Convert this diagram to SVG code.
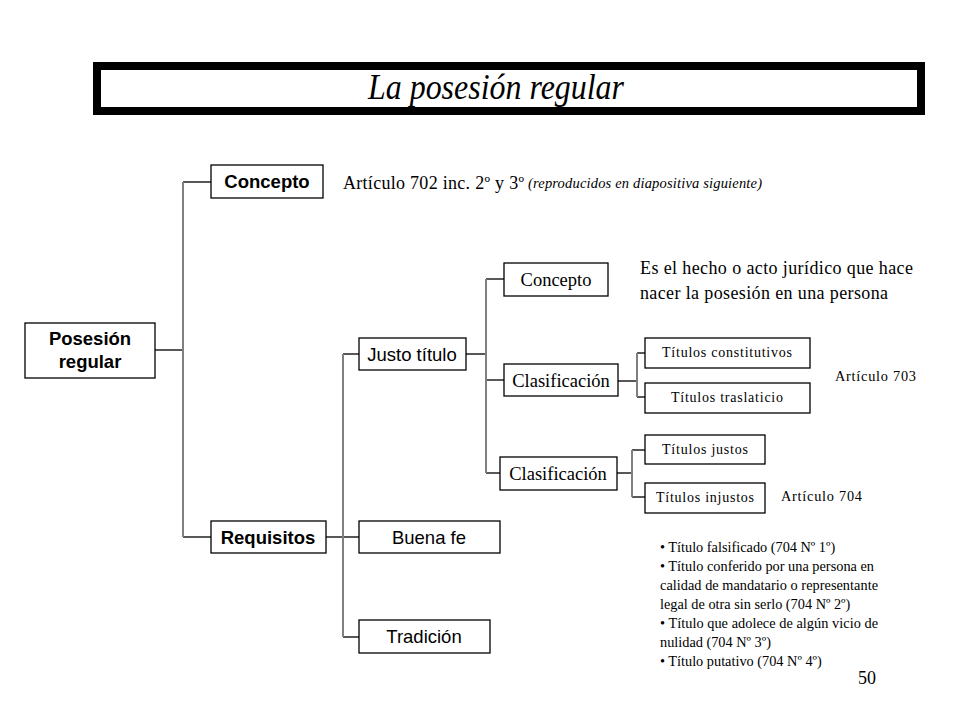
<svg xmlns="http://www.w3.org/2000/svg" width="960" height="720" viewBox="0 0 960 720">
<style>
.box{fill:#fff;stroke:#000;stroke-width:1.3}
.h{stroke:#222;stroke-width:1.5;fill:none}
.v{stroke:#808080;stroke-width:2;fill:none}
.sb{font-family:"Liberation Sans",Arial,sans-serif;font-weight:bold;font-size:18.5px;fill:#000;text-anchor:middle}
.s{font-family:"Liberation Sans",Arial,sans-serif;font-size:18.5px;fill:#000;text-anchor:middle}
.t{font-family:"Liberation Serif","Times New Roman",serif;font-size:18px;fill:#000}
.ti{font-family:"Liberation Serif","Times New Roman",serif;font-size:14.5px;font-style:italic;fill:#000}
.tm{font-family:"Liberation Serif","Times New Roman",serif;font-size:18.5px;fill:#000;text-anchor:middle}
.ts{font-family:"Liberation Serif","Times New Roman",serif;font-size:14px;fill:#000;text-anchor:middle}
.tn{font-family:"Liberation Serif","Times New Roman",serif;font-size:14.3px;fill:#000}
</style>
<rect width="960" height="720" fill="#fff"/>
<g id="title">
<rect x="97" y="66" width="824" height="45" fill="#fff" stroke="#000" stroke-width="8"/>
<text x="496" y="99" font-family="'Liberation Serif','Times New Roman',serif" font-style="italic" font-size="36" text-anchor="middle" textLength="256" lengthAdjust="spacingAndGlyphs">La posesión regular</text>
</g>
<g id="connectors">
<path class="h" d="M155 350H183M183 182H211M183 537H211"/>
<path class="v" d="M183 182V537"/>
<path class="h" d="M326 537H359M343 354H359M343 637H359"/>
<path class="v" d="M343 354V637"/>
<path class="h" d="M466 354H486M486 279H504M486 380H504M486 473H500"/>
<path class="v" d="M486 279V473"/>
<path class="h" d="M618 381H637M637 353H645M637 397H645"/>
<path class="v" d="M637 353V397"/>
<path class="h" d="M617 473H632M632 450H645M632 497H645"/>
<path class="v" d="M632 450V497"/>
</g>
<g id="posesion"><rect class="box" x="25" y="323" width="130" height="55"/><text class="sb" x="90" y="345">Posesión</text><text class="sb" x="90" y="368">regular</text></g>
<g id="concepto1"><rect class="box" x="211" y="165" width="112" height="33"/><text class="sb" x="267" y="188">Concepto</text></g>
<g id="requisitos"><rect class="box" x="211" y="521" width="115" height="32"/><text class="sb" x="268" y="544">Requisitos</text></g>
<g id="justo"><rect class="box" x="359" y="338" width="107" height="32"/><text class="s" x="412" y="361">Justo título</text></g>
<g id="buenafe"><rect class="box" x="359" y="521" width="141" height="32"/><text class="s" x="429" y="544">Buena fe</text></g>
<g id="tradicion"><rect class="box" x="359" y="620" width="131" height="33"/><text class="s" x="424" y="643">Tradición</text></g>
<g id="concepto2"><rect class="box" x="504" y="263" width="104" height="33"/><text class="tm" x="556" y="286">Concepto</text></g>
<g id="clasif1"><rect class="box" x="504" y="364" width="114" height="32"/><text class="tm" x="561" y="387">Clasificación</text></g>
<g id="clasif2"><rect class="box" x="500" y="457" width="117" height="33"/><text class="tm" x="558" y="480">Clasificación</text></g>
<g id="constitutivos"><rect class="box" x="645" y="338" width="165" height="30"/><text class="ts" x="727" y="357" textLength="130">Títulos constitutivos</text></g>
<g id="traslaticio"><rect class="box" x="645" y="383" width="165" height="30"/><text class="ts" x="727" y="402" textLength="112">Títulos traslaticio</text></g>
<g id="justos"><rect class="box" x="645" y="435" width="120" height="29"/><text class="ts" x="705" y="454" textLength="86">Títulos justos</text></g>
<g id="injustos"><rect class="box" x="645" y="483" width="120" height="30"/><text class="ts" x="705" y="502" textLength="98">Títulos injustos</text></g>
<g id="notes">
<text class="t" x="343" y="189" textLength="181">Artículo 702 inc. 2º y 3º</text>
<text class="ti" x="528" y="188" textLength="234">(reproducidos en diapositiva siguiente)</text>
<text class="t" x="640" y="274" textLength="273">Es el hecho o acto jurídico que hace</text>
<text class="t" x="640" y="299" textLength="248">nacer la posesión en una persona</text>
<text class="tn" x="835" y="381" textLength="81">Artículo 703</text>
<text class="tn" x="781" y="501" textLength="81">Artículo 704</text>
<text class="tn" x="660" y="552">• Título falsificado (704 Nº 1º)</text>
<text class="tn" x="660" y="571" textLength="214">• Título conferido por una persona en</text>
<text class="tn" x="660" y="590" textLength="218">calidad de mandatario o representante</text>
<text class="tn" x="660" y="609">legal de otra sin serlo (704 Nº 2º)</text>
<text class="tn" x="660" y="628" textLength="218">• Título que adolece de algún vicio de</text>
<text class="tn" x="660" y="647">nulidad (704 Nº 3º)</text>
<text class="tn" x="660" y="666">• Título putativo (704 Nº 4º)</text>
<text class="t" x="858" y="684">50</text>
</g>
</svg>
